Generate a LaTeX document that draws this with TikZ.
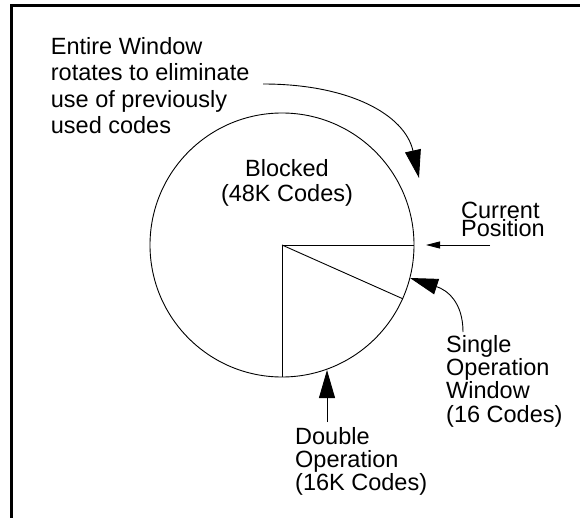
\documentclass[tikz,border=0pt]{standalone}
\usepackage{fontspec}
\setmainfont{Liberation Sans}
\usetikzlibrary{arrows.meta}
\begin{document}
\begin{tikzpicture}[x=1pt,y=-1pt,
  lbl/.style={inner sep=0pt, align=left, anchor=north west},
  bigarrow/.style={-{Triangle[length=28pt,width=16pt]}, line width=0.9pt},
  smallarrow/.style={-{Triangle[length=14pt,width=7pt]}, line width=0.9pt},
  wedge/.style={line width=0.9pt}]
\useasboundingbox (0,0) rectangle (580,518);
% frame (top and left edges only)
\draw[line width=2.5pt] (11.7,518) -- (11.7,5.5) -- (580,5.5);
% the code wheel
\node[circle, draw, line width=0.9pt, minimum size=264pt, inner sep=0pt] (wheel) at (282,245) {};
\draw[wedge] (wheel.center) -- (wheel.east);
\draw[wedge] (wheel.center) -- (wheel.-24);
\draw[wedge] (wheel.center) -- (wheel.south);
% labels
\node[lbl, font=\fontsize{23.5}{26.5}\selectfont] (rot) at (50.7,36.8)
  {Entire Window\\rotates to eliminate\\use of previously\\used codes};
\node[inner sep=0pt, align=center, anchor=north, font=\fontsize{23.5}{24.5}\selectfont] (blk) at (287,159.5)
  {Blocked\\(48K Codes)};
\node[lbl, font=\fontsize{23.5}{18.5}\selectfont] (cur) at (461,201.5)
  {Current\\Position};
\node[lbl, font=\fontsize{23.5}{23.4}\selectfont] (sgl) at (446,334.8)
  {Single\\Operation\\Window\\(16 Codes)};
\node[lbl, font=\fontsize{23.5}{23.2}\selectfont] (dbl) at (295,427)
  {Double\\Operation\\(16K Codes)};
% arrow end points
\coordinate (rotS) at (263,84);
\coordinate (rotT) at (419,178);
\coordinate (curS) at (490,245);
\coordinate (curT) at (426,245);
\coordinate (sglS) at (463,332);
\coordinate (sglT) at (410,278);
\coordinate (dblS) at (327,422);
\coordinate (dblT) at (327,370);
% arrows
\draw[bigarrow] (rotS) .. controls (350,84) and (405,115) .. (rotT);
\draw[smallarrow] (curS) -- (curT);
\draw[bigarrow] (sglS) .. controls (463,302) and (447,290) .. (sglT);
\draw[bigarrow] (dblS) -- (dblT);
\end{tikzpicture}
\end{document}
